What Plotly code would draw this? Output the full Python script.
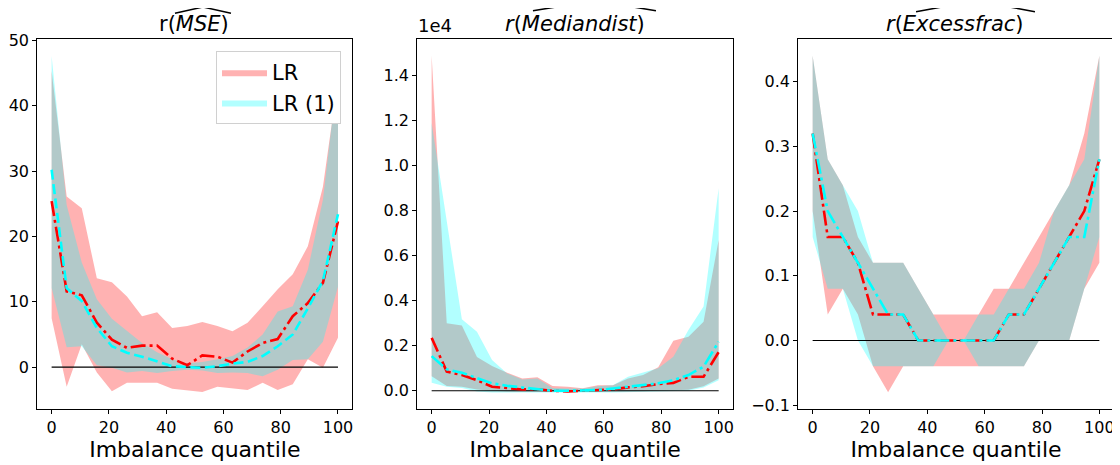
import plotly.graph_objects as go

# ---------------- data ----------------
QUANTILES = [0.0, 5.26, 10.53, 15.79, 21.05, 26.32, 31.58, 36.84, 42.11, 47.37,
             52.63, 57.89, 63.16, 68.42, 73.68, 78.95, 84.21, 89.47, 94.74, 100.0]

# panel 1: r(MSE)
LR_MEAN_MSE = [25.4, 11.6, 11.0, 6.8, 4.2, 2.95, 3.3, 3.3, 1.3, 0.3,
               1.8, 1.6, 0.7, 2.4, 3.7, 4.3, 7.8, 9.8, 12.9, 22.3]
LR_HI_MSE = [45.3, 26.1, 24.3, 13.6, 13.0, 10.8, 7.8, 8.4, 6.0, 6.3,
             6.9, 6.3, 5.5, 6.8, 9.3, 11.9, 14.2, 18.5, 27.6, 44.0]
LR_LO_MSE = [7.5, -3.0, 3.5, -0.8, -3.7, -2.4, -2.4, -2.4, -3.3, -3.5,
             -3.8, -3.0, -3.2, -3.5, -2.4, -3.5, -2.6, 1.2, -0.1, 4.5]
LR1_MEAN_MSE = [30.2, 12.1, 10.1, 6.0, 3.2, 2.2, 1.6, 0.9, 0.15, 0.0,
                -0.1, 0.15, 0.55, 0.8, 1.7, 3.2, 5.0, 9.0, 13.2, 23.4]
LR1_HI_MSE = [47.6, 24.8, 16.0, 10.4, 7.4, 5.6, 3.7, 2.3, 1.2, 0.6,
              0.8, 1.2, 1.7, 3.0, 5.0, 8.5, 9.3, 14.9, 25.6, 45.2]
LR1_LO_MSE = [12.1, 3.05, 3.2, 0.3, -0.1, -0.8, -0.6, -0.9, -0.6, -0.4,
              -0.5, -0.9, -0.8, -0.9, -1.4, -0.4, 1.1, 1.2, 3.9, 12.3]

# panel 2: r(Mediandist), in units of 1e4
LR_MEAN_MED = [0.235, 0.085, 0.07, 0.047, 0.018, 0.012, 0.006, 0.007, 0.0, -0.003,
               0.0, 0.003, 0.006, 0.015, 0.02, 0.03, 0.035, 0.062, 0.062, 0.172]
LR_HI_MED = [1.49, 0.30, 0.29, 0.15, 0.11, 0.08, 0.055, 0.06, 0.021, 0.018,
             0.011, 0.024, 0.024, 0.055, 0.07, 0.104, 0.222, 0.24, 0.307, 0.67]
LR_LO_MED = [0.065, 0.021, 0.018, 0.006, 0.0, -0.003, -0.004, -0.004, -0.005, -0.005,
             -0.005, -0.005, -0.004, -0.003, -0.002, 0.0, 0.002, 0.005, 0.02, 0.055]
LR1_MEAN_MED = [0.154, 0.095, 0.08, 0.055, 0.033, 0.022, 0.015, 0.01, 0.0, 0.0,
                0.0, 0.003, 0.01, 0.018, 0.025, 0.033, 0.047, 0.07, 0.107, 0.218]
LR1_HI_MED = [1.19, 0.75, 0.318, 0.262, 0.137, 0.077, 0.05, 0.055, 0.012, 0.01,
              0.01, 0.02, 0.025, 0.062, 0.08, 0.10, 0.151, 0.27, 0.374, 0.90]
LR1_LO_MED = [0.036, 0.018, 0.012, -0.003, -0.008, -0.008, -0.008, -0.008, -0.008, -0.008,
              -0.008, -0.008, -0.008, -0.008, -0.006, -0.004, -0.002, 0.0, 0.015, 0.047]

# panel 3: r(Excessfrac)
LR_MEAN_EXC = [0.32, 0.16, 0.16, 0.12, 0.04, 0.04, 0.04, 0.0, 0.0, 0.0,
               0.0, 0.0, 0.0, 0.04, 0.04, 0.08, 0.12, 0.16, 0.2, 0.28]
LR_HI_EXC = [0.44, 0.28, 0.24, 0.16, 0.12, 0.12, 0.12, 0.08, 0.04, 0.04,
             0.04, 0.04, 0.08, 0.08, 0.12, 0.16, 0.2, 0.24, 0.32, 0.44]
LR_LO_EXC = [0.2, 0.04, 0.08, 0.04, -0.04, -0.08, -0.04, -0.04, -0.04, -0.04,
             -0.04, -0.04, -0.04, -0.04, -0.04, 0.0, 0.0, 0.0, 0.08, 0.12]
LR1_MEAN_EXC = [0.32, 0.2, 0.16, 0.12, 0.08, 0.04, 0.04, 0.0, 0.0, 0.0,
                0.0, 0.0, 0.0, 0.04, 0.04, 0.08, 0.12, 0.16, 0.16, 0.28]
LR1_HI_EXC = [0.44, 0.28, 0.24, 0.2, 0.12, 0.12, 0.12, 0.08, 0.04, 0.0,
              0.0, 0.04, 0.04, 0.08, 0.08, 0.12, 0.2, 0.24, 0.28, 0.44]
LR1_LO_EXC = [0.16, 0.08, 0.08, 0.0, -0.04, -0.04, -0.04, -0.04, -0.04, 0.0,
              0.0, -0.04, -0.04, -0.04, -0.04, 0.0, 0.0, 0.0, 0.08, 0.16]

ZERO_X = [0, 100]
ZERO_Y = [0, 0]

SERIES_NAMES = ["LR", "LR (1)"]
X_TICKS = [0, 20, 40, 60, 80, 100]
Y_TICKS_MSE = [0, 10, 20, 30, 40, 50]
Y_TICKS_MED = [0.0, 0.2, 0.4, 0.6, 0.8, 1.0, 1.2, 1.4]
Y_TICKS_EXC = [-0.1, 0.0, 0.1, 0.2, 0.3, 0.4]

# ---------------- styling ----------------
FONT = "DejaVu Sans"
RED_FILL = "rgba(255,0,0,0.3)"
CYAN_FILL = "rgba(0,255,255,0.3)"
OFF = 8  # page body margin of the browser
W, H = 1120 - OFF, 465 - OFF
ML, MR, MT, MB = 29, 6, 31, 56
PW, PH = W - ML - MR, H - MT - MB


def px_x(p):
    return (p - OFF - ML) / PW


def px_y(p):
    return (H - MB - (p - OFF)) / PH


fig = go.Figure()

DASHDOT = "15px,4px,3px,4px"
panels = [
    dict(xa="x", ya="y", lr=(LR_LO_MSE, LR_HI_MSE, LR_MEAN_MSE),
         lr1=(LR1_LO_MSE, LR1_HI_MSE, LR1_MEAN_MSE), cyan_dash="10px,4.5px", legend=True),
    dict(xa="x2", ya="y2", lr=(LR_LO_MED, LR_HI_MED, LR_MEAN_MED),
         lr1=(LR1_LO_MED, LR1_HI_MED, LR1_MEAN_MED), cyan_dash=DASHDOT, legend=False),
    dict(xa="x3", ya="y3", lr=(LR_LO_EXC, LR_HI_EXC, LR_MEAN_EXC),
         lr1=(LR1_LO_EXC, LR1_HI_EXC, LR1_MEAN_EXC), cyan_dash=DASHDOT, legend=False),
]

xs_back = QUANTILES[::-1]
for p in panels:
    for (lo, hi, _), fillc, name in [(p["lr"], RED_FILL, SERIES_NAMES[0]),
                                     (p["lr1"], CYAN_FILL, SERIES_NAMES[1])]:
        fig.add_trace(go.Scatter(
            x=QUANTILES + xs_back, y=hi + lo[::-1], fill="toself", fillcolor=fillc,
            mode="lines", line=dict(width=0, color=fillc), name=name,
            showlegend=p["legend"], hoverinfo="skip", xaxis=p["xa"], yaxis=p["ya"]))
    fig.add_trace(go.Scatter(x=ZERO_X, y=ZERO_Y, mode="lines",
                             line=dict(color="black", width=1.1), showlegend=False,
                             xaxis=p["xa"], yaxis=p["ya"]))
    fig.add_trace(go.Scatter(x=QUANTILES, y=p["lr"][2], mode="lines",
                             line=dict(color="red", width=2.6, dash=DASHDOT),
                             showlegend=False, xaxis=p["xa"], yaxis=p["ya"]))
    fig.add_trace(go.Scatter(x=QUANTILES, y=p["lr1"][2], mode="lines",
                             line=dict(color="cyan", width=2.6, dash=p["cyan_dash"]),
                             showlegend=False, xaxis=p["xa"], yaxis=p["ya"]))

domains = [(px_x(37.3), px_x(352.3)), (px_x(417.3), px_x(733.0)), (px_x(798.3), px_x(1113.7))]
yranges = [[-6.4, 50.2], [-0.081, 1.563], [-0.106, 0.466]]
yticks = [(Y_TICKS_MSE, [str(v) for v in Y_TICKS_MSE]),
          (Y_TICKS_MED, [f"{v:.1f}" for v in Y_TICKS_MED]),
          (Y_TICKS_EXC, [f"{v:.1f}".replace("-", "\u2212") for v in Y_TICKS_EXC])]

axis_common = dict(showline=True, mirror=True, linecolor="black", linewidth=1.1,
                   ticks="outside", ticklen=4, tickwidth=1, tickcolor="black",
                   showgrid=False, zeroline=False, automargin=False,
                   tickfont=dict(family=FONT, size=16, color="black"))

layout = dict(
    width=W, height=H, margin=dict(l=ML, r=MR, t=MT, b=MB, pad=0, autoexpand=False),
    paper_bgcolor="white", plot_bgcolor="white",
    font=dict(family=FONT, color="black"),
    legend=dict(x=px_x(341), y=px_y(51), xanchor="right", yanchor="top",
                bgcolor="white", bordercolor="#d0d0d0", borderwidth=1,
                font=dict(family=FONT, size=21, color="black"),
                itemwidth=45, tracegroupgap=2),
)
for i in range(3):
    sfx = "" if i == 0 else str(i + 1)
    layout["xaxis" + sfx] = dict(
        domain=list(domains[i]), range=[-5, 105], anchor="y" + sfx,
        tickvals=X_TICKS, ticktext=[str(v) for v in X_TICKS],
        title=dict(text="Imbalance quantile", font=dict(family=FONT, size=22, color="black"),
                   standoff=4),
        **axis_common)
    layout["yaxis" + sfx] = dict(
        domain=[0, 1], range=yranges[i], anchor="x" + sfx,
        tickvals=yticks[i][0], ticktext=yticks[i][1], **axis_common)

titles = [("r(<i>MSE</i>)", 194.0), ("<i>r</i>(<i>Mediandist</i>)", 574.8),
          ("<i>r</i>(<i>Excessfrac</i>)", 955.2)]
annotations = []
for text, cx in titles:
    annotations.append(dict(text=text, x=px_x(cx), y=px_y(24), xref="paper", yref="paper",
                            xanchor="center", yanchor="middle", showarrow=False,
                            font=dict(family=FONT, size=21, color="black")))
annotations.append(dict(text="1e4", x=px_x(416), y=px_y(38), xref="paper", yref="paper",
                        xanchor="left", yanchor="bottom", showarrow=False,
                        font=dict(family=FONT, size=18, color="black")))
layout["annotations"] = annotations

hats = [((175, 13.3), (203, 7.0), (231, 13.3)),
        ((533, 10.7), (595, 0.8), (656, 10.7)),
        ((916, 11.7), (976, 0.8), (1035, 11.7))]
shapes = []
for a, b, c in hats:
    path = "M {:.4f},{:.4f} L {:.4f},{:.4f} L {:.4f},{:.4f}".format(
        px_x(a[0]), px_y(a[1]), px_x(b[0]), px_y(b[1]), px_x(c[0]), px_y(c[1]))
    shapes.append(dict(type="path", path=path, xref="paper", yref="paper",
                       line=dict(color="black", width=1.5)))
layout["shapes"] = shapes

fig.update_layout(**layout)
fig.write_html("out.html")
